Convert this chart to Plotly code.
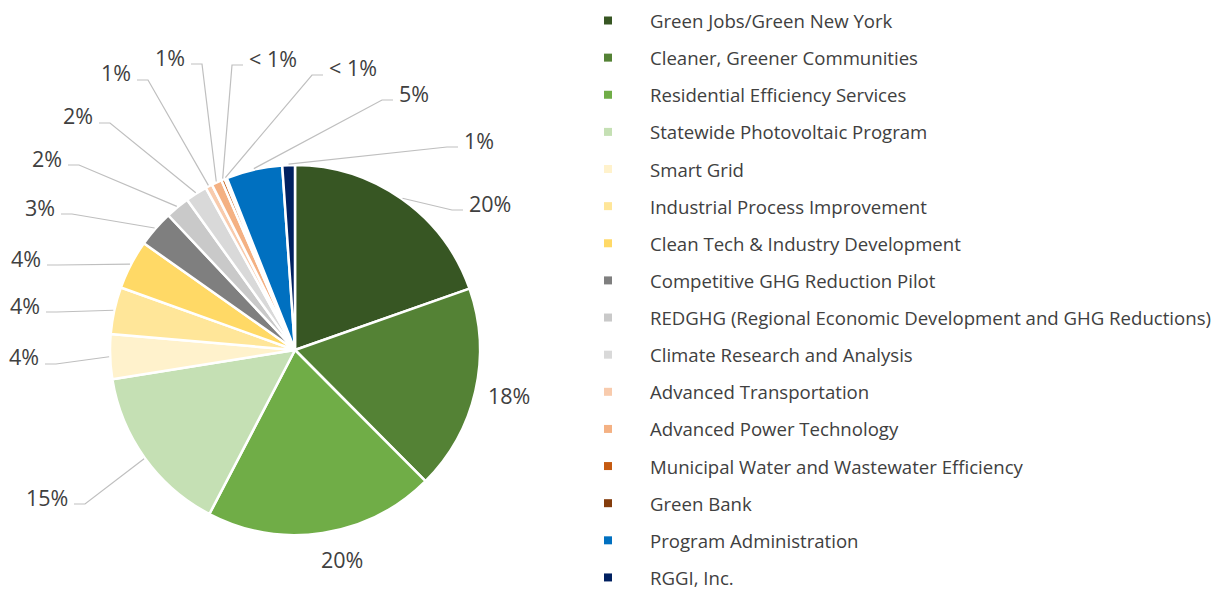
import math
import plotly.graph_objects as go

# Program funding shares (percent of total)
programs = [
    "Green Jobs/Green New York",
    "Cleaner, Greener Communities",
    "Residential Efficiency Services",
    "Statewide Photovoltaic Program",
    "Smart Grid",
    "Industrial Process Improvement",
    "Clean Tech & Industry Development",
    "Competitive GHG Reduction Pilot",
    "REDGHG (Regional Economic Development and GHG Reductions)",
    "Climate Research and Analysis",
    "Advanced Transportation",
    "Advanced Power Technology",
    "Municipal Water and Wastewater Efficiency",
    "Green Bank",
    "Program Administration",
    "RGGI, Inc.",
]
shares = [19.6, 17.9, 20.1, 14.8, 3.9, 4.1, 4.3, 3.2, 2.1, 1.9, 0.6, 0.9, 0.3, 0.2, 4.9, 1.1]
colors = [
    "#375623", "#548235", "#70AD47", "#C5E0B4", "#FFF2CC", "#FFE699", "#FFD966",
    "#7F7F7F", "#C9C9C9", "#D9D9D9", "#F8CBAD", "#F4B183", "#C55A11", "#843C0C",
    "#0070C0", "#002060",
]

W, H = 1228, 589
CX, CY, R = 295, 350, 185
TEXT_COLOR = "#404040"
FONT = "Open Sans"


def px(x):
    return x / W


def py(y):
    return 1 - y / H


def pct_label(v):
    return "< 1%" if v < 0.5 else f"{round(v)}%"


# Label placement (pixel space): (text anchor x, text centre y, side of stub)
# side "L": text sits left of its leader line; "R": right; None: no leader line
label_layout = [
    (467, 203, "R"),
    (486, 395, None),
    (319, 559, None),
    (70, 497, "L"),
    (41, 357, "L"),
    (42, 305, "L"),
    (43, 258, "L"),
    (57, 207, "L"),
    (64, 158, "L"),
    (95, 116, "L"),
    (133, 73, "L"),
    (187, 57, "L"),
    (247, 58, "R"),
    (327, 68, "R"),
    (397, 93, "R"),
    (462, 140, "R"),
]

# Legend geometry (pixel space)
LEG_MARK_X, LEG_TEXT_X, LEG_TOP, LEG_STEP, LEG_MARK = 608, 648, 20.5, 37.13, 8

fig = go.Figure()
fig.add_trace(go.Pie(
    labels=programs,
    values=shares,
    sort=False,
    direction="clockwise",
    rotation=0,
    marker=dict(colors=colors, line=dict(color="white", width=2.5)),
    textinfo="none",
    hoverinfo="label+percent",
    showlegend=False,
    domain=dict(x=[px(CX - R), px(CX + R)], y=[py(CY + R), py(CY - R)]),
))

annotations = []
shapes = []
total = sum(shares)
cum = 0.0
label_font = dict(family=FONT, size=21.5, color=TEXT_COLOR)
for v, (lx, ly, side) in zip(shares, label_layout):
    mid = (cum + v / 2) / total * 2 * math.pi
    cum += v
    sx = CX + (R + 1) * math.sin(mid)
    sy = CY - (R + 1) * math.cos(mid)
    if side is None:
        annotations.append(dict(x=px(lx), y=py(ly), xref="paper", yref="paper",
                                text=pct_label(v), showarrow=False,
                                xanchor="left", yanchor="middle", font=label_font))
        continue
    stub_y = ly + 7
    if side == "L":
        end_x = lx + 4
        elbow_x = end_x + 11
        anchor = "right"
    else:
        end_x = lx - 4
        elbow_x = end_x - 11
        anchor = "left"
    shapes.append(dict(type="path", xref="paper", yref="paper",
                       path=f"M{px(sx)},{py(sy)} L{px(elbow_x)},{py(stub_y)} L{px(end_x)},{py(stub_y)}",
                       line=dict(color="#BFBFBF", width=1.2)))
    annotations.append(dict(x=px(lx), y=py(ly), xref="paper", yref="paper",
                            text=pct_label(v), showarrow=False,
                            xanchor=anchor, yanchor="middle", font=label_font))

# Legend: colour swatch + program name per row
for i, (name, col) in enumerate(zip(programs, colors)):
    yc = LEG_TOP + i * LEG_STEP
    half = LEG_MARK / 2
    shapes.append(dict(type="rect", xref="paper", yref="paper",
                       x0=px(LEG_MARK_X - half), x1=px(LEG_MARK_X + half),
                       y0=py(yc + half), y1=py(yc - half),
                       fillcolor=col, line=dict(width=0)))
    annotations.append(dict(x=px(LEG_TEXT_X), y=py(yc), xref="paper", yref="paper",
                            text=name, showarrow=False, xanchor="left", yanchor="middle",
                            font=dict(family=FONT, size=18.6, color=TEXT_COLOR)))

fig.update_layout(
    width=W, height=H,
    margin=dict(l=0, r=0, t=0, b=0),
    paper_bgcolor="white",
    plot_bgcolor="white",
    showlegend=False,
    annotations=annotations,
    shapes=shapes,
)

fig.write_html("out.html")
